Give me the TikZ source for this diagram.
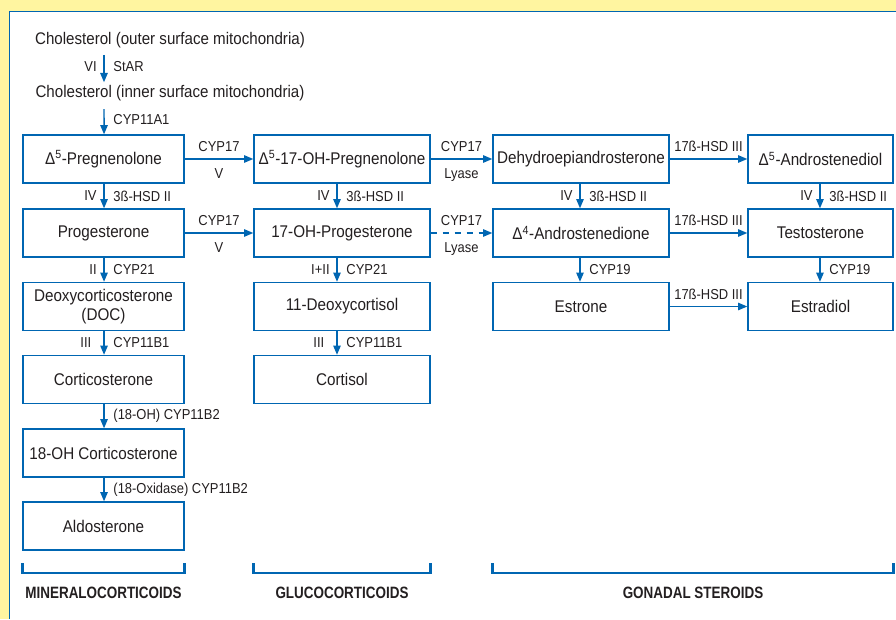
\documentclass[tikz,border=0pt]{standalone}
\usepackage{fontspec}
\setmainfont{Liberation Sans}[FakeStretch=0.9]
\newfontfamily\labfont{Liberation Sans}[FakeStretch=0.82]
\usetikzlibrary{arrows.meta}
\definecolor{ablue}{RGB}{0,102,178}
\definecolor{ayellow}{RGB}{255,245,160}
\definecolor{atext}{RGB}{35,31,32}
\begin{document}
\begin{tikzpicture}[x=0.75pt,y=-0.75pt,
  box/.style={draw=ablue,line width=1pt,fill=white,minimum height=36pt,align=center,inner sep=1pt,text=atext,font=\fontsize{12.7}{14.5}\selectfont},
  cA/.style={box,minimum width=120.75pt},
  cB/.style={box,minimum width=132pt},
  cD/.style={box,minimum width=108.75pt},
  plain/.style={text=atext,font=\fontsize{12.6}{14.5}\selectfont,inner sep=2pt},
  arr/.style={draw=ablue,line width=1.1pt,-{Triangle[length=7pt,width=5.6pt]}},
  lab/.style={text=atext,font=\fontsize{10.8}{12}\selectfont,inner sep=0pt},
  lftlab/.style={lab,anchor=east,xshift=-5pt},
  rgtlab/.style={lab,anchor=west,xshift=6.5pt},
  toplab/.style={lab,anchor=base,yshift=5.5pt},
  botlab/.style={lab,anchor=base,yshift=-14.5pt},
  grp/.style={draw=ablue,line width=2pt},
  grplab/.style={text=atext,font=\labfont\bfseries\fontsize{12.3}{14}\selectfont,inner sep=0pt}
]
\useasboundingbox (0,0) rectangle (896,619);
\fill[ayellow] (0,0) rectangle (896,619);
\fill[white] (9.5,11.5) rectangle (896,619);
\draw[ablue,line width=0.9pt] (896,11.5) -- (9.5,11.5) -- (9.5,619);

% top
\node[plain] (ch1) at (170,40) {Cholesterol (outer surface mitochondria)};
\node[plain] (ch2) at (170,93) {Cholesterol (inner surface mitochondria)};

% row 1
\node[cA] (p1) at (103.5,159) {Δ\textsuperscript{5}-Pregnenolone};
\node[cB] (q1) at (342,159) {Δ\textsuperscript{5}-17-OH-Pregnenolone};
\node[cB] (d1) at (581,159) {Dehydroepiandrosterone};
\node[cD] (e1) at (820.5,159) {Δ\textsuperscript{5}-Androstenediol};
% row 2
\node[cA] (p2) at (103.5,233) {Progesterone};
\node[cB] (q2) at (342,233) {17-OH-Progesterone};
\node[cB] (d2) at (581,233) {Δ\textsuperscript{4}-Androstenedione};
\node[cD] (e2) at (820.5,233) {Testosterone};
% row 3
\node[cA] (p3) at (103.5,306.5) {Deoxycorticosterone\\(DOC)};
\node[cB] (q3) at (342,306.5) {11-Deoxycortisol};
\node[cB] (d3) at (581,306.5) {Estrone};
\node[cD] (e3) at (820.5,306.5) {Estradiol};
% row 4
\node[cA] (p4) at (103.5,379.5) {Corticosterone};
\node[cB] (q4) at (342,379.5) {Cortisol};
% rows 5,6
\node[cA] (p5) at (103.5,453) {18-OH Corticosterone};
\node[cA] (p6) at (103.5,526) {Aldosterone};

% top arrows
\draw[arr,shorten <=3pt] ([xshift=-49.5pt]ch1.south) -- node[lftlab]{VI} node[rgtlab]{StAR} ([xshift=-49.5pt]ch2.north);
\draw[arr,shorten <=4pt] ([xshift=-49.5pt]ch2.south) -- node[rgtlab]{CYP11A1} ([xshift=0.4pt]p1.north);

% vertical arrows col 1
\draw[arr] ([xshift=0.4pt]p1.south) -- node[lftlab]{IV} node[rgtlab]{3ß-HSD II} ([xshift=0.4pt]p2.north);
\draw[arr] ([xshift=0.4pt]p2.south) -- node[lftlab]{II} node[rgtlab]{CYP21} ([xshift=0.4pt]p3.north);
\draw[arr] ([xshift=0.4pt]p3.south) -- node[lftlab,xshift=-4pt]{III} node[rgtlab]{CYP11B1} ([xshift=0.4pt]p4.north);
\draw[arr] ([xshift=0.4pt]p4.south) -- node[rgtlab]{(18-OH) CYP11B2} ([xshift=0.4pt]p5.north);
\draw[arr] ([xshift=0.4pt]p5.south) -- node[rgtlab]{(18-Oxidase) CYP11B2} ([xshift=0.4pt]p6.north);
% col 2
\draw[arr] ([xshift=-3.75pt]q1.south) -- node[lftlab]{IV} node[rgtlab]{3ß-HSD II} ([xshift=-3.75pt]q2.north);
\draw[arr] ([xshift=-3.75pt]q2.south) -- node[lftlab]{I+II} node[rgtlab]{CYP21} ([xshift=-3.75pt]q3.north);
\draw[arr] ([xshift=-3.75pt]q3.south) -- node[lftlab,xshift=-4pt]{III} node[rgtlab]{CYP11B1} ([xshift=-3.75pt]q4.north);
% col 3
\draw[arr] ([xshift=-0.75pt]d1.south) -- node[lftlab]{IV} node[rgtlab]{3ß-HSD II} ([xshift=-0.75pt]d2.north);
\draw[arr] ([xshift=-0.75pt]d2.south) -- node[rgtlab]{CYP19} ([xshift=-0.75pt]d3.north);
% col 4
\draw[arr] ([xshift=-0.4pt]e1.south) -- node[lftlab]{IV} node[rgtlab]{3ß-HSD II} ([xshift=-0.4pt]e2.north);
\draw[arr] ([xshift=-0.4pt]e2.south) -- node[rgtlab]{CYP19} ([xshift=-0.4pt]e3.north);

% horizontal arrows
\draw[arr] (p1) -- node[toplab]{CYP17} node[botlab]{V} (q1);
\draw[arr] (q1) -- node[toplab]{CYP17} node[botlab]{Lyase} (d1);
\draw[arr] (d1) -- node[toplab]{17ß-HSD III} (e1);
\draw[arr] (p2) -- node[toplab]{CYP17} node[botlab]{V} (q2);
\draw[arr,dash pattern=on 5pt off 4pt] (q2) -- node[toplab]{CYP17} node[botlab]{Lyase} (d2);
\draw[arr] (d2) -- node[toplab]{17ß-HSD III} (e2);
\draw[arr] (d3) -- node[toplab]{17ß-HSD III} (e3);

% group brackets
\draw[grp] (p6.west |- 0,563) -- (p6.west |- 0,573) -- (p6.east |- 0,573) -- (p6.east |- 0,563);
\draw[grp] (q4.west |- 0,563) -- (q4.west |- 0,573) -- (q4.east |- 0,573) -- (q4.east |- 0,563);
\draw[grp] (d3.west |- 0,563) -- (d3.west |- 0,573) -- (e3.east |- 0,573) -- (e3.east |- 0,563);
\node[grplab] (g1) at (103.5,593) {MINERALOCORTICOIDS};
\node[grplab] (g2) at (342,593) {GLUCOCORTICOIDS};
\node[grplab] (g3) at (693,593) {GONADAL STEROIDS};
\end{tikzpicture}
\end{document}
